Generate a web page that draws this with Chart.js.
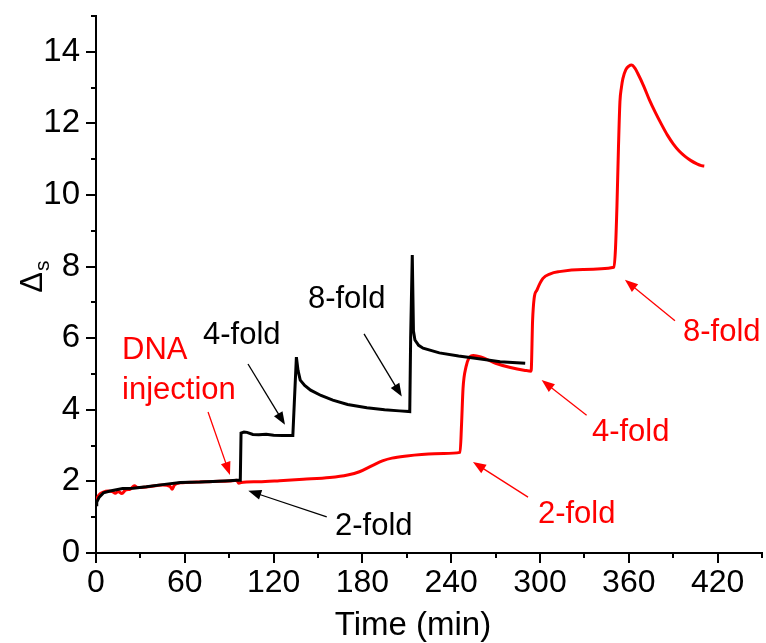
<!DOCTYPE html>
<html><head><meta charset="utf-8">
<script src="https://cdn.jsdelivr.net/npm/chart.js@4.4.1/dist/chart.umd.min.js"></script>
<style>html,body{margin:0;padding:0;background:#fff}#wrap{width:766px;height:643px;position:relative}</style>
</head><body>
<div id="wrap"><canvas id="chart"></canvas></div>
<script>
// time (min) and signal for the single-step addition (black) and stepwise addition (red)
const blackTime=[0,0.5,2,5,9.5,18,25,34,45,57,70,79,90,95,97.5,98,100,102,106,110,115,120,126,133,134,135.4,136.5,138,141,145,152,160,170,183,195,205,212,212.6,213.7,214.5,215.5,218,221,232,245,260,273,290];
const blackVal=[1.35,1.42,1.55,1.68,1.73,1.8,1.81,1.85,1.91,1.97,1.98,2.0,2.02,2.03,2.03,3.35,3.38,3.37,3.31,3.3,3.32,3.29,3.28,3.28,4.2,5.47,5.1,4.83,4.68,4.55,4.4,4.27,4.15,4.06,4.0,3.97,3.95,6.0,8.32,6.2,5.95,5.8,5.72,5.59,5.5,5.42,5.34,5.3];
const redTime=[0,2,5,8,11,13,15,17.5,20,23,26,28,35,45,50,51.5,53,57,68,79,90,95,96.5,98,110,124,140,158,170,178,187,194,200,210,220,235,246,247,248,250,252,255,260,270,280,290,294,295,296,298,302,307,313,329,350,351,352,353,354,355,356,358,360,362,364,366,370,374,378,382,386,390,394,398,402,406,409,411];
const redVal=[1.47,1.62,1.7,1.73,1.72,1.67,1.72,1.66,1.76,1.78,1.88,1.83,1.85,1.9,1.86,1.78,1.9,1.96,1.98,2.0,2.01,2.03,1.95,1.97,1.99,2.02,2.06,2.11,2.18,2.27,2.45,2.58,2.65,2.71,2.75,2.78,2.81,3.6,4.6,5.2,5.45,5.52,5.48,5.3,5.18,5.1,5.08,6.5,7.1,7.35,7.67,7.8,7.86,7.92,7.98,8.5,9.7,11.3,12.6,13.0,13.25,13.5,13.6,13.63,13.55,13.4,13.05,12.65,12.3,11.98,11.68,11.43,11.23,11.08,10.96,10.87,10.82,10.81];
const xTicks=[0,60,120,180,240,300,360,420];
const yTicks=[0,2,4,6,8,10,12,14];

// labels with arrows: [text, colour, textX, textY, arrow from x,y, arrow to x,y]
const notes=[
  ['DNA','#ff0000',17.6,5.67,null],
  ['injection','#ff0000',17.6,4.55,[75.7,3.94,90.5,2.18]],
  ['4-fold','#000000',72.3,6.09,[102.7,5.28,127.7,3.58]],
  ['8-fold','#000000',143.2,7.07,[181.1,6.12,206.6,4.37]],
  ['2-fold','#000000',161.5,0.73,[155.9,1.01,102.9,1.74]],
  ['2-fold','#ff0000',298.6,1.09,[291.9,1.56,254.7,2.54]],
  ['4-fold','#ff0000',335.1,3.38,[331.5,3.85,301.1,4.83]],
  ['8-fold','#ff0000',396.6,6.17,[391.2,6.49,357.4,7.63]]
];

const FONT='"Liberation Sans", Arial, sans-serif';
const pts=(t,v)=>t.map((x,i)=>({x,y:v[i]}));

function arrow(ctx,x1,y1,x2,y2,col){
  const a=Math.atan2(y2-y1,x2-x1),L=13,W=5;
  ctx.strokeStyle=col;ctx.fillStyle=col;ctx.lineWidth=1.3;
  ctx.beginPath();ctx.moveTo(x1,y1);ctx.lineTo(x2-Math.cos(a)*L*0.8,y2-Math.sin(a)*L*0.8);ctx.stroke();
  ctx.beginPath();ctx.moveTo(x2,y2);
  ctx.lineTo(x2-Math.cos(a)*L+Math.sin(a)*W,y2-Math.sin(a)*L-Math.cos(a)*W);
  ctx.lineTo(x2-Math.cos(a)*L-Math.sin(a)*W,y2-Math.sin(a)*L+Math.cos(a)*W);
  ctx.closePath();ctx.fill();
}

const extras={
  id:'extras',
  afterDraw(chart){
    const {ctx,scales:{x,y},chartArea:ca}=chart;
    ctx.save();
    // tick marks, major long and minor short, outside
    ctx.strokeStyle='#000';ctx.lineWidth=2;
    for(let v=0;v<=450;v+=30){const px=Math.round(x.getPixelForValue(v));const l=v%60===0?10:5;
      ctx.beginPath();ctx.moveTo(px,ca.bottom);ctx.lineTo(px,ca.bottom+l);ctx.stroke();}
    for(let v=0;v<=15;v++){const py=Math.round(y.getPixelForValue(v));const l=v%2===0?10:5;
      ctx.beginPath();ctx.moveTo(ca.left,py);ctx.lineTo(ca.left-l,py);ctx.stroke();}
    // x title
    ctx.fillStyle='#000';ctx.textAlign='center';ctx.textBaseline='alphabetic';
    ctx.font='33px '+FONT;ctx.fillText('Time (min)',413,635);
    // y title: Delta with subscript s
    ctx.translate(32,y.getPixelForValue(7.7));ctx.rotate(-Math.PI/2);
    ctx.textAlign='left';
    ctx.font='31px '+FONT;const w=ctx.measureText('\u0394').width;
    ctx.fillText('\u0394',-w/2-5,10);
    ctx.font='21px '+FONT;ctx.fillText('s',w/2-4,17);
    ctx.restore();
    // annotations
    ctx.save();ctx.font='31px '+FONT;ctx.textBaseline='middle';ctx.textAlign='left';
    notes.forEach(([txt,col,tx,ty,ar])=>{
      ctx.fillStyle=col;ctx.fillText(txt,x.getPixelForValue(tx),y.getPixelForValue(ty));
      if(ar)arrow(ctx,x.getPixelForValue(ar[0]),y.getPixelForValue(ar[1]),x.getPixelForValue(ar[2]),y.getPixelForValue(ar[3]),col);
    });
    ctx.restore();
  }
};

new Chart(document.getElementById('chart'),{
  type:'line',
  data:{datasets:[
    {label:'single',data:pts(blackTime,blackVal),borderColor:'#000',borderWidth:3,pointRadius:0,tension:0},
    {label:'stepwise',data:pts(redTime,redVal),borderColor:'#ff0000',borderWidth:3,pointRadius:0,cubicInterpolationMode:'monotone'}
  ]},
  options:{
    responsive:true,maintainAspectRatio:false,animation:false,
    layout:{padding:{top:16,right:4,left:0,bottom:0}},
    plugins:{legend:{display:false},tooltip:{enabled:false}},
    scales:{
      x:{type:'linear',min:0,max:450,
        ticks:{stepSize:30,autoSkip:false,maxRotation:0,padding:1,color:'#000',font:{family:FONT,size:32},
          callback:v=>xTicks.includes(v)?String(v):''},
        grid:{drawOnChartArea:false,drawTicks:true,tickLength:10,tickColor:'transparent'},
        border:{display:true,color:'#000',width:2},
        afterFit:s=>{s.height=90;s.paddingLeft=0;s.paddingRight=0}},
      y:{min:0,max:15,
        ticks:{stepSize:1,autoSkip:false,padding:6,color:'#000',font:{family:FONT,size:33},
          callback:v=>yTicks.includes(v)?String(v):''},
        grid:{drawOnChartArea:false,drawTicks:true,tickLength:10,tickColor:'transparent'},
        border:{display:true,color:'#000',width:2},
        afterFit:s=>{s.width=96;s.paddingTop=0;s.paddingBottom=0}}
    }
  },
  plugins:[extras]
});
</script>
</body></html>
